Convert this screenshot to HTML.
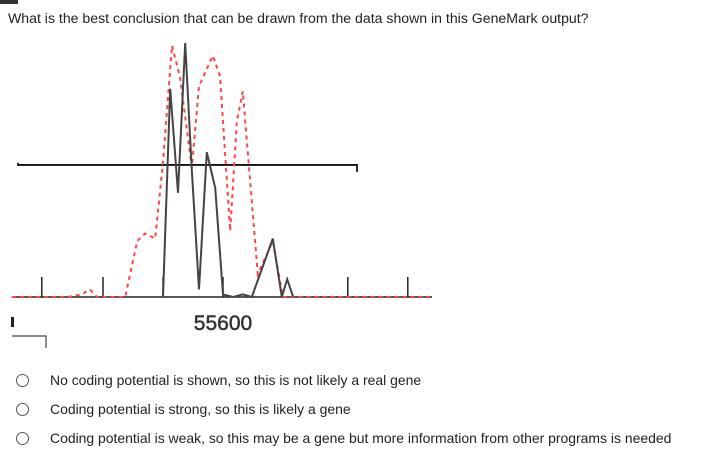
<!DOCTYPE html>
<html><head><meta charset="utf-8"><style>
body{margin:0;width:708px;height:457px;background:#fff;font-family:"Liberation Sans",sans-serif;position:relative;overflow:hidden}
.q{position:absolute;left:8px;top:10px;font-size:14.1px;color:#222}
.opt{position:absolute;left:16px;font-size:13.95px;color:#222;display:flex;align-items:center}
.opt span.c{width:13px;height:13px;border:1.3px solid #555;border-radius:50%;display:inline-block;margin-right:21px;box-sizing:border-box}
</style></head><body>
<div style="position:absolute;left:0;top:0;width:18px;height:4px;background:#333"></div>
<div class="q">What is the best conclusion that can be drawn from the data shown in this GeneMark output?</div>
<svg id="chart" width="708" height="360" style="position:absolute;left:0;top:0"></svg>
<div class="opt" style="top:372px"><span class="c"></span>No coding potential is shown, so this is not likely a real gene</div>
<div class="opt" style="top:401px"><span class="c"></span>Coding potential is strong, so this is likely a gene</div>
<div class="opt" style="top:430px"><span class="c"></span>Coding potential is weak, so this may be a gene but more information from other programs is needed</div>
<script>
const blackPos=[55500,55512,55525,55537,55548,55560,55573,55587,55600,55617,55633,55648,55683,55698,55707,55717];
const blackVal=[0,0.82,0.41,1.0,0.5,0.03,0.57,0.43,0.01,0,0.01,0,0.23,0,0.07,0];
const redPos=[55248,55340,55365,55378,55390,55437,55457,55470,55487,55500,55515,55528,55548,55560,55583,55595,55612,55623,55633,55642,55658,55683,55700,55945];
const redVal=[0,0,0.01,0.03,0,0,0.22,0.25,0.23,0.53,0.99,0.87,0.51,0.83,0.95,0.87,0.26,0.69,0.81,0.55,0.09,0.22,0,0];
const tickPos=[55298,55400,55500,55600,55808,55908];
const tickLabels=["55600"];
const threshold=0.52;
const NS="http://www.w3.org/2000/svg";
const svg=document.getElementById('chart');
const xs=p=>223+(p-55600)*0.6;
const ys=v=>297-254*v;
function el(t,a){const e=document.createElementNS(NS,t);for(const k in a)e.setAttribute(k,a[k]);svg.appendChild(e);return e;}
let ax=el('line',{x1:12,y1:297,x2:432,y2:297,stroke:'#222','stroke-width':1.5});


tickPos.forEach(p=>{const t=el('line',{x1:xs(p),y1:297,x2:xs(p),y2:277,stroke:'#222','stroke-width':1.5});

});
let th=el('path',{d:`M18 ${ys(threshold)-2} L18 ${ys(threshold)} L357 ${ys(threshold)} L357 ${ys(threshold)+7}`,fill:'none',stroke:'#111','stroke-width':1.8});


let rl=el('polyline',{points:redPos.map((p,i)=>xs(p)+','+ys(redVal[i])).join(' '),fill:'none',stroke:'#f44','stroke-width':2,'stroke-dasharray':'4,4'});


let bl=el('polyline',{points:blackPos.map((p,i)=>xs(p)+','+ys(blackVal[i])).join(' '),fill:'none',stroke:'#444','stroke-width':2});


let lab=el('text',{x:xs(55600),y:330,'text-anchor':'middle','font-size':21,fill:'#333','font-family':'Liberation Sans, sans-serif','stroke':'#333','stroke-width':0.5});
lab.textContent=tickLabels[0];


let br=el('path',{d:'M12 336 L46 336 L46 348',fill:'none',stroke:'#444','stroke-width':1.2});


let lm=el('rect',{x:11,y:317,width:3,height:10,fill:'#222'});


</script>
</body></html>
